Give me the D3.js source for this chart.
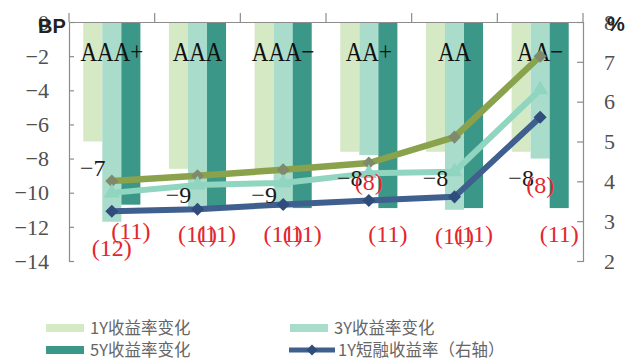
<!DOCTYPE html>
<html>
<head>
<meta charset="utf-8">
<script src="https://cdn.jsdelivr.net/npm/d3@7"></script>
<style>
  html, body { margin: 0; padding: 0; background: #fff; }
  svg { display: block; }
</style>
</head>
<body>
<svg id="chart" width="630" height="360"></svg>
<script>
// Rating grades and yield changes (BP, left axis)
const categories = ["AAA+", "AAA", "AAA−", "AA+", "AA", "AA−"];
const change1Y = [-7.0, -8.6, -8.6, -7.6, -7.6, -7.6];
const change3Y = [-11.7, -10.9, -10.9, -7.8, -11.0, -8.0];
const change5Y = [-10.7, -10.9, -10.9, -10.9, -10.9, -10.9];

// Yield levels (%, right axis)
const yield5Y = [4.01, 4.14, 4.29, 4.46, 5.11, 7.14];
const yield3Y = [3.71, 3.91, 3.96, 4.20, 4.24, 6.30];
const yieldShort1Y = [3.25, 3.30, 3.42, 3.52, 3.61, 5.61];

// Axis ticks
const leftTicks = [0, -2, -4, -6, -8, -10, -12, -14];
const rightTicks = [2, 3, 4, 5, 6, 7, 8];

// Legend entries
const legendBars = ["1Y收益率变化", "3Y收益率变化", "5Y收益率变化"];
const legendLine = "1Y短融收益率（右轴）";

const barSeries = [
  { key: "1Y", values: change1Y, color: "#d5e9c4", labelColor: "#1a1a1a", neg: "minus" },
  { key: "3Y", values: change3Y, color: "#a9dccb", labelColor: "#e3262f", neg: "paren" },
  { key: "5Y", values: change5Y, color: "#3b9787", labelColor: "#e3262f", neg: "paren" }
];

const lineSeries = [
  { key: "y5", values: yield5Y, color: "#8aa24c", marker: "diamond", markerColor: "#7f8a6c", width: 6.5 },
  { key: "y3", values: yield3Y, color: "#8fd5bf", marker: "triangle", markerColor: "#8fd5bf", width: 6 },
  { key: "y1", values: yieldShort1Y, color: "#3f5f8e", marker: "diamond", markerColor: "#2f4c7c", width: 6 }
];

const svg = d3.select("#chart");
const plot = { left: 69, right: 583, top: 22, bottom: 261 };
const axisColor = "#8c8c8c";
const serif = "'Liberation Serif', 'Times New Roman', serif";

const x0 = d3.scaleBand().domain(categories).range([plot.left, plot.right]).padding(0);
const bw = x0.bandwidth();
const x1 = d3.scaleBand().domain(barSeries.map(s => s.key)).range([bw / 6, bw * 5 / 6]).padding(0);
const yL = d3.scaleLinear().domain([-14, 0]).range([plot.bottom, plot.top]);
const yR = d3.scaleLinear().domain([2, 8]).range([plot.bottom, plot.top]);

// Bars (grouped, hanging down from zero)
const gBars = svg.append("g");
barSeries.forEach(s => {
  gBars.selectAll(null)
    .data(s.values.map((v, i) => ({ v, c: categories[i] })))
    .join("rect")
    .attr("x", d => x0(d.c) + x1(s.key))
    .attr("y", d => yL(0))
    .attr("width", x1.bandwidth())
    .attr("height", d => yL(d.v) - yL(0))
    .attr("fill", s.color);
});

// Category labels inside the top of the plot
categories.forEach(c => {
  svg.append("text")
    .attr("transform", `translate(${x0(c) + bw / 2},61) scale(0.82,1)`)
    .attr("text-anchor", "middle")
    .attr("font-family", serif)
    .attr("font-size", 28)
    .attr("fill", "#111")
    .text(c);
});

// Axes
const leftAxis = d3.axisRight(yL).tickValues(leftTicks).tickSize(5).tickFormat("");
const gL = svg.append("g").attr("transform", `translate(${plot.left},0)`).call(leftAxis);
const rightAxis = d3.axisLeft(yR).tickValues(rightTicks).tickSize(6).tickFormat("");
const gR = svg.append("g").attr("transform", `translate(${plot.right},0)`).call(rightAxis);
const topAxis = d3.axisTop(x0).tickSize(0).tickFormat("");
const gT = svg.append("g").attr("transform", `translate(0,${plot.top})`).call(topAxis);
[gL, gR, gT].forEach(g => {
  g.select(".domain").attr("stroke", axisColor).attr("stroke-width", 1.2);
  g.selectAll(".tick line").attr("stroke", axisColor).attr("stroke-width", 1.2);
});
// Category boundary ticks on the top axis
const bounds = categories.map(c => x0(c)).concat([plot.right]);
svg.append("g").selectAll("line").data(bounds).join("line")
  .attr("x1", d => d).attr("x2", d => d)
  .attr("y1", plot.top - 9).attr("y2", plot.top)
  .attr("stroke", axisColor).attr("stroke-width", 1.2);

// Tick labels
const fmtTick = d3.format("d");
svg.append("g").selectAll("text").data(leftTicks).join("text")
  .attr("x", 49).attr("y", d => yL(d)).attr("dy", "0.35em")
  .attr("text-anchor", "end")
  .attr("font-family", serif).attr("font-size", 22).attr("fill", "#505050")
  .text(d => fmtTick(d));
svg.append("g").selectAll("text").data(rightTicks).join("text")
  .attr("x", 604).attr("y", d => yR(d)).attr("dy", "0.35em")
  .attr("text-anchor", "start")
  .attr("font-family", serif).attr("font-size", 22).attr("fill", "#505050")
  .text(d => fmtTick(d));

// Unit titles
svg.append("text").attr("x", 38).attr("y", 33)
  .attr("font-family", "'Liberation Sans', Arial, sans-serif").attr("font-weight", "bold")
  .attr("font-size", 20).attr("fill", "#222").text("BP");
svg.append("text").attr("x", 607).attr("y", 31)
  .attr("font-family", "'Liberation Sans', Arial, sans-serif").attr("font-weight", "bold")
  .attr("font-size", 20).attr("fill", "#222").text("%");

// Yield lines (right axis)
const cx = i => x0(categories[i]) + bw / 2;
const gLines = svg.append("g");
const diamond = d3.symbol().type(d3.symbolSquare).size(85);
const triangle = d3.symbol().type(d3.symbolTriangle).size(110);
lineSeries.forEach(s => {
  const line = d3.line().x((d, i) => cx(i)).y(d => yR(d));
  gLines.append("path")
    .attr("d", line(s.values))
    .attr("fill", "none")
    .attr("stroke", s.color)
    .attr("stroke-width", s.width)
    .attr("stroke-linejoin", "round");
  gLines.selectAll(null).data(s.values).join("path")
    .attr("d", s.marker === "diamond" ? diamond() : triangle())
    .attr("transform", (d, i) => `translate(${cx(i)},${yR(d)}) rotate(${s.marker === "diamond" ? 45 : 0})`)
    .attr("fill", s.markerColor);
});

// Data labels for the bar values
const gLabels = svg.append("g");
barSeries.forEach(s => {
  gLabels.selectAll(null)
    .data(s.values.map((v, i) => ({ v, c: categories[i] })))
    .join("text")
    .attr("x", d => x0(d.c) + x1(s.key) + x1.bandwidth() / 2)
    .attr("y", d => yL(d.v) + 26)
    .attr("dy", "0.35em")
    .attr("text-anchor", "middle")
    .attr("font-family", serif)
    .attr("font-size", 24)
    .attr("fill", s.labelColor)
    .text(d => s.neg === "paren" ? `(${d3.format("d")(Math.round(-d.v))})` : d3.format(".0f")(d.v));
});

// Legend
const cjk = "'Noto Sans CJK SC', 'Noto Sans', sans-serif";
const legendItems = [
  { label: legendBars[0], color: barSeries[0].color, x: 46, y: 328, type: "bar" },
  { label: legendBars[1], color: barSeries[1].color, x: 290, y: 328, type: "bar" },
  { label: legendBars[2], color: barSeries[2].color, x: 46, y: 350, type: "bar" },
  { label: legendLine, color: lineSeries[2].color, x: 289, y: 350, type: "line" }
];
const gLeg = svg.append("g");
legendItems.forEach(it => {
  if (it.type === "bar") {
    gLeg.append("rect").attr("x", it.x).attr("y", it.y - 4).attr("width", 38).attr("height", 8).attr("fill", it.color);
  } else {
    gLeg.append("line").attr("x1", it.x).attr("x2", it.x + 46).attr("y1", it.y).attr("y2", it.y)
      .attr("stroke", it.color).attr("stroke-width", 5);
    gLeg.append("path").attr("d", d3.symbol().type(d3.symbolSquare).size(60)())
      .attr("transform", `translate(${it.x + 23},${it.y}) rotate(45)`)
      .attr("fill", lineSeries[2].markerColor);
  }
  gLeg.append("text")
    .attr("x", it.x + (it.type === "bar" ? 44 : 49))
    .attr("y", it.y).attr("dy", "0.34em")
    .attr("font-family", cjk).attr("font-size", 16.5).attr("fill", "#666")
    .text(it.label);
});
</script>
</body>
</html>
